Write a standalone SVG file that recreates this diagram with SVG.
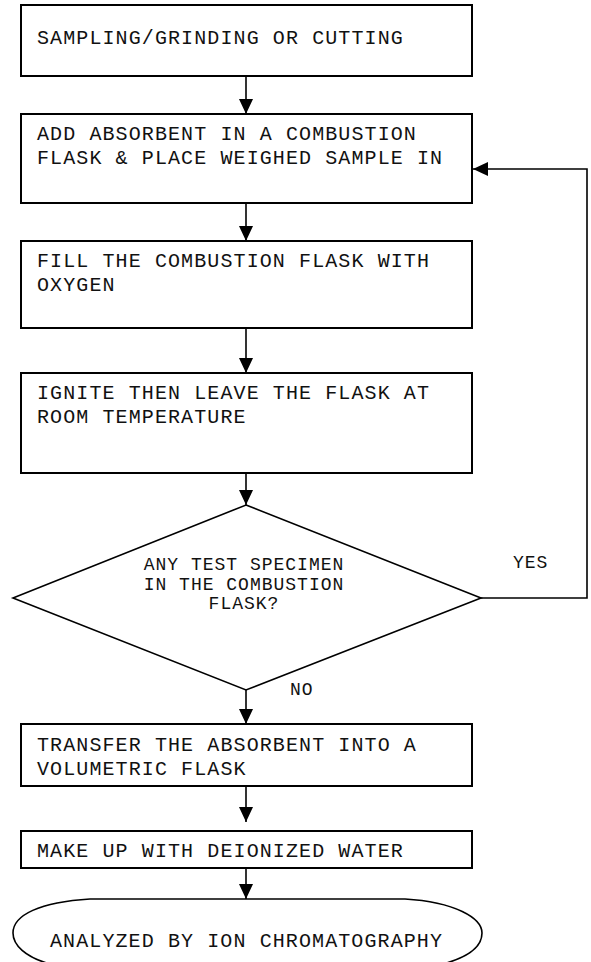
<svg xmlns="http://www.w3.org/2000/svg" width="591" height="962" viewBox="0 0 591 962">
<style>
.box{fill:#fff;stroke:#000;stroke-width:2}
.shape{fill:#fff;stroke:#000;stroke-width:1.6}
.t{font-family:"Liberation Mono","DejaVu Sans Mono",monospace;font-size:20px;letter-spacing:1.1px;fill:#111}
.d{font-family:"Liberation Mono","DejaVu Sans Mono",monospace;font-size:18px;letter-spacing:1px;fill:#111}
.c{fill:none;stroke:#000;stroke-width:1.6}
</style>
<defs>
<marker id="ah" markerUnits="userSpaceOnUse" markerWidth="16" markerHeight="14" refX="15" refY="7" orient="auto">
<path d="M0,0 L15,7 L0,14 Z" fill="#000"/>
</marker>
</defs>
<rect width="591" height="962" fill="#fff"/>
<g id="connectors">
<line class="c" x1="246" y1="76" x2="246" y2="114" marker-end="url(#ah)"/>
<line class="c" x1="246" y1="203" x2="246" y2="241" marker-end="url(#ah)"/>
<line class="c" x1="246" y1="328" x2="246" y2="373" marker-end="url(#ah)"/>
<line class="c" x1="246" y1="473" x2="246" y2="505" marker-end="url(#ah)"/>
<line class="c" x1="246" y1="690" x2="246" y2="724" marker-end="url(#ah)"/>
<line class="c" x1="246" y1="786" x2="246" y2="822" marker-end="url(#ah)"/>
<line class="c" x1="246" y1="868" x2="246" y2="899" marker-end="url(#ah)"/>
<polyline class="c" points="481,598 587,598 587,169 473,169" marker-end="url(#ah)"/>
<text class="d" x="513" y="568">YES</text>
<text class="d" x="290" y="695">NO</text>
</g>
<g id="n1">
<rect class="box" x="21" y="5" width="451" height="71"/>
<text class="t" x="37" y="44">SAMPLING/GRINDING OR CUTTING</text>
</g>
<g id="n2">
<rect class="box" x="21" y="114" width="451" height="89"/>
<text class="t" x="37" y="140">ADD ABSORBENT IN A COMBUSTION</text>
<text class="t" x="37" y="164">FLASK &amp; PLACE WEIGHED SAMPLE IN</text>
</g>
<g id="n3">
<rect class="box" x="21" y="241" width="451" height="87"/>
<text class="t" x="37" y="267">FILL THE COMBUSTION FLASK WITH</text>
<text class="t" x="37" y="291">OXYGEN</text>
</g>
<g id="n4">
<rect class="box" x="21" y="373" width="451" height="100"/>
<text class="t" x="37" y="399">IGNITE THEN LEAVE THE FLASK AT</text>
<text class="t" x="37" y="423">ROOM TEMPERATURE</text>
</g>
<g id="n5">
<polygon class="shape" points="246,505 481,598 246,690 13,598"/>
<text class="d" x="244" y="570" text-anchor="middle">ANY TEST SPECIMEN</text>
<text class="d" x="244" y="590" text-anchor="middle">IN THE COMBUSTION</text>
<text class="d" x="244" y="609" text-anchor="middle">FLASK?</text>
</g>
<g id="n6">
<rect class="box" x="21" y="724" width="451" height="62"/>
<text class="t" x="37" y="751">TRANSFER THE ABSORBENT INTO A</text>
<text class="t" x="37" y="775">VOLUMETRIC FLASK</text>
</g>
<g id="n7">
<rect class="box" x="21" y="831" width="451" height="37"/>
<text class="t" x="37" y="857">MAKE UP WITH DEIONIZED WATER</text>
</g>
<g id="n8">
<path class="shape" d="M90,899 L405,899 C455,902 482,918 482,933 C482,948 465,958 443,964 L50,964 C25,957 13,945 13,933 C13,915 40,902 90,899 Z"/>
<text class="t" x="50" y="947">ANALYZED BY ION CHROMATOGRAPHY</text>
</g>
</svg>
